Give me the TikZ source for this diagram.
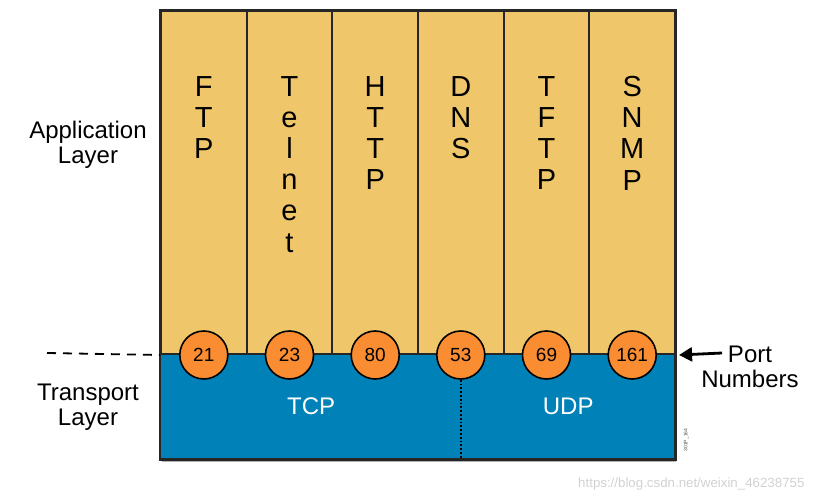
\documentclass[tikz,border=0pt]{standalone}
\usepackage{fontspec}
\setmainfont{Liberation Sans}
\usetikzlibrary{shapes,arrows,arrows.meta,positioning,calc}
\definecolor{appyellow}{RGB}{239,198,106}
\definecolor{tcpblue}{RGB}{0,130,184}
\definecolor{portorange}{RGB}{250,140,50}
\tikzset{
    column/.style = {
        rectangle, draw=black!85, fill=appyellow, line width=2pt,
        minimum width=85.67pt, minimum height=343pt, anchor=north, inner sep=0pt
    },
    letters/.style = {anchor=north, inner sep=0pt, align=center,
        font=\fontsize{29}{31.2}\selectfont},
    port/.style    = {circle, draw=black, fill=portorange, line width=1.6pt,
        minimum size=48pt, inner sep=0pt, font=\fontsize{19}{19}\selectfont},
    proto/.style   = {rectangle, fill=tcpblue, minimum height=106pt,
        anchor=north west, inner sep=0pt, text=white,
        font=\fontsize{24}{24}\selectfont},
    layertext/.style = {align=center, font=\fontsize{24}{25}\selectfont},
    portarrow/.style = {draw, -{Triangle[length=13pt,width=14pt]}, line width=2.8pt}
}
\begin{document}
\begin{tikzpicture}[x=1pt, y=-1pt]
  \useasboundingbox (0,0) rectangle (817,503);

  % transport layer
  \node [proto, minimum width=300pt] (tcp) at (161,353) {TCP};
  \node [proto, minimum width=214pt] (udp) at (461,353) {UDP};
  \fill [gray!60] ($(tcp.south west)+(1,0)$) rectangle ($(udp.south east)+(1,3)$);

  % application layer columns
  \node [column] (col1) at (203.8,10) {};
  \node [column] (col2) at (289.5,10) {};
  \node [column] (col3) at (375.2,10) {};
  \node [column] (col4) at (460.8,10) {};
  \node [column] (col5) at (546.5,10) {};
  \node [column] (col6) at (632.2,10) {};

  \node [letters] (ftp)    at ($(col1.north)+(0,66)$) {F\\T\\P};
  \node [letters] (telnet) at ($(col2.north)+(0,66)$) {T\\e\\l\\n\\e\\t};
  \node [letters] (http)   at ($(col3.north)+(0,66)$) {H\\T\\T\\P};
  \node [letters] (dns)    at ($(col4.north)+(0,66)$) {D\\N\\S};
  \node [letters] (tftp)   at ($(col5.north)+(0,66)$) {T\\F\\T\\P};
  \node [letters] (snmp)   at ($(col6.north)+(0,66)$) {S\\N\\M\\P};

  % dotted split between TCP and UDP
  \node [port] (p53) at (col4.south) {53};
  \draw [dotted, line width=1.8pt] (p53.south) -- (p53.south |- tcp.south);

  % port numbers
  \node [port] (p21)  at (col1.south) {21};
  \node [port] (p23)  at (col2.south) {23};
  \node [port] (p80)  at (col3.south) {80};
  \node [port] (p69)  at (col5.south) {69};
  \node [port] (p161) at (col6.south) {161};

  \draw [black!85, line width=2.2pt] (col1.north west) rectangle (udp.south east);

  % side labels
  \node [layertext] (app) at (88,145) {Application\\Layer};
  \node [layertext] (trans) at (88,407) {Transport\\Layer};
  \node [layertext] (ports) at (750,367) {Port\\Numbers};

  \coordinate (dashstart) at (47,353);
  \draw [dash pattern=on 9pt off 7pt, line width=1.8pt] (dashstart) -- (col1.south west);
  \coordinate (arrowstart) at (722,353);
  \path [portarrow] (arrowstart) -- ($(col6.south east)+(3,0)$);

  \node [rotate=90, text=black!70, font=\fontsize{5}{5}\selectfont] (code) at (686,440) {301P\_164};
  \node [anchor=east, text=black!18, font=\fontsize{13.3}{14}\selectfont] (wm) at (808,484)
    {https://blog.csdn.net/weixin\_46238755};
\end{tikzpicture}
\end{document}
